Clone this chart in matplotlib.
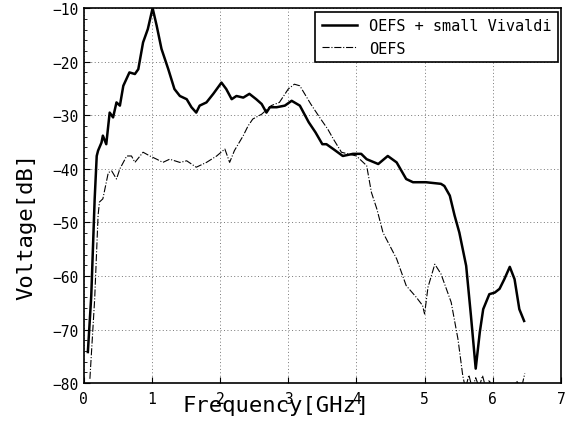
import numpy as np
import matplotlib.pyplot as plt

plt.rcParams['font.family'] = ['DejaVu Sans Mono']

# OEFS + small Vivaldi (solid)
f_viv = [0.06, 0.11, 0.16, 0.19, 0.21, 0.26, 0.28, 0.33, 0.38, 0.43, 0.48, 0.53,
         0.58, 0.67, 0.75, 0.80, 0.87, 0.94, 1.01, 1.07, 1.14, 1.24, 1.33, 1.41,
         1.51, 1.58, 1.65, 1.70, 1.80, 1.90, 2.02, 2.09, 2.17, 2.24, 2.34, 2.43,
         2.53, 2.61, 2.68, 2.73, 2.83, 2.95, 3.05, 3.17, 3.30, 3.40, 3.50, 3.56,
         3.66, 3.80, 3.95, 4.07, 4.15, 4.32, 4.46, 4.59, 4.73, 4.83, 5.02, 5.24,
         5.29, 5.37, 5.44, 5.51, 5.61, 5.68, 5.75, 5.81, 5.86, 5.95, 6.03, 6.10,
         6.17, 6.25, 6.32, 6.39, 6.46]
v_viv = [-74.2, -63.7, -45.6, -37.6, -36.6, -35.1, -33.8, -35.4, -29.5, -30.4, -27.6, -28.2,
         -24.5, -22.0, -22.3, -21.4, -16.4, -13.9, -10.0, -13.3, -17.6, -21.4, -25.1, -26.4,
         -27.0, -28.5, -29.5, -28.2, -27.6, -26.0, -23.9, -25.1, -27.0, -26.4, -26.7, -26.0,
         -27.0, -27.9, -29.5, -28.5, -28.5, -28.2, -27.3, -28.2, -31.3, -33.2, -35.4, -35.4,
         -36.3, -37.6, -37.2, -37.2, -38.2, -39.1, -37.6, -38.8, -41.9, -42.5, -42.5, -42.8,
         -43.2, -45.0, -48.7, -51.9, -58.1, -67.4, -77.3, -70.5, -66.2, -63.4, -63.1, -62.4,
         -60.6, -58.3, -60.6, -66.2, -68.4]

# OEFS (dash-dot)
f_oefs = [0.09, 0.16, 0.21, 0.23, 0.28, 0.36, 0.41, 0.48, 0.53, 0.63, 0.70, 0.75,
          0.87, 0.97, 1.07, 1.16, 1.26, 1.41, 1.51, 1.65, 1.80, 1.95, 2.07, 2.14,
          2.21, 2.34, 2.41, 2.48, 2.61, 2.75, 2.87, 3.00, 3.09, 3.17, 3.33, 3.46,
          3.58, 3.66, 3.78, 4.00, 4.15, 4.22, 4.30, 4.39, 4.59, 4.73, 4.88, 4.97,
          5.00, 5.05, 5.15, 5.24, 5.39, 5.49, 5.56, 5.60, 5.65, 5.70, 5.75, 5.80,
          5.85, 5.90, 5.95, 6.00, 6.30, 6.35, 6.42, 6.47]
v_oefs = [-79.2, -64.3, -48.7, -46.2, -45.6, -40.7, -40.4, -41.9, -40.0, -37.6, -37.6, -38.8,
          -36.9, -37.6, -38.2, -38.8, -38.2, -38.8, -38.5, -39.7, -38.8, -37.6, -36.3, -38.8,
          -36.6, -33.8, -32.0, -30.7, -29.8, -28.2, -27.6, -25.1, -24.2, -24.5, -27.9, -30.4,
          -32.6, -34.4, -36.9, -37.6, -39.4, -44.4, -47.5, -51.9, -56.8, -61.8, -64.0, -65.5,
          -67.1, -62.1, -57.8, -59.6, -64.9, -71.8, -78.6, -81.0, -78.5, -81.0, -79.0, -80.8,
          -78.6, -81.0, -79.4, -82.0, -82.0, -79.6, -81.0, -78.2]

fig = plt.figure(figsize=(5.66, 4.35), dpi=100)
ax = fig.add_axes([0.148, 0.117, 0.843, 0.862])

ax.plot(f_viv, v_viv, 'k-', lw=1.8, label='OEFS + small Vivaldi')
ax.plot(f_oefs, v_oefs, 'k-.', lw=0.8, label='OEFS')

ax.set_xlim(0, 7)
ax.set_ylim(-80, -10)
ax.set_xticks(range(0, 8))
ax.set_yticks(range(-80, 0, 10))
ax.set_yticks(np.arange(-80, -9, 2), minor=True)
ax.tick_params(direction='in', labelsize=10.5, length=4)
ax.tick_params(axis='x', pad=6)
ax.tick_params(which='minor', direction='in', length=2, axis='y')
ax.grid(True, linestyle=(0, (1, 2.5)), color='#777777', lw=0.7)
for s in ax.spines.values():
    s.set_linewidth(1.2)

ax.set_xlabel('Frequency[GHz]', fontsize=16)
ax.xaxis.set_label_coords(0.403, -0.032)
ax.set_ylabel('Voltage[dB]', fontsize=16)
ax.yaxis.set_label_coords(-0.10, 0.42)

leg = ax.legend(loc='upper right', bbox_to_anchor=(0.993, 0.99), fontsize=11,
                fancybox=False, framealpha=1, edgecolor='black', borderaxespad=0,
                handlelength=2.3, handletextpad=0.8)
leg.get_frame().set_linewidth(1.2)

fig.savefig('out.png', dpi=100)
